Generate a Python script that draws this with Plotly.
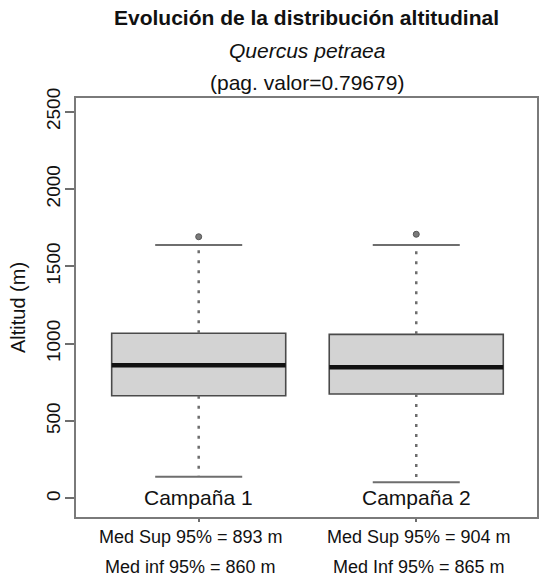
import plotly.graph_objects as go

# ---------------- data ----------------
categories = ["Campaña 1", "Campaña 2"]
positions = [1, 2]
q1 = [664, 675]
median = [861, 848]
q3 = [1068, 1061]
lower_whisker = [141, 105]
upper_whisker = [1638, 1638]
outliers = [[1692], [1708]]
med_sup = ["Med Sup 95% = 893 m", "Med Sup 95% = 904 m"]
med_inf = ["Med inf 95% = 860 m", "Med Inf 95% = 865 m"]
y_ticks = [0, 500, 1000, 1500, 2000, 2500]

title = "Evolución de la distribución altitudinal"
subtitle = "Quercus petraea"
pvalue = "(pag. valor=0.79679)"

# ---------------- style ----------------
FONT = "Liberation Sans, Arial, Helvetica, sans-serif"
BOXW = 0.8
CAPW = 0.4
GREY = "#6e6e6e"

fig = go.Figure()

# box bodies
for i, p in enumerate(positions):
    fig.add_trace(go.Box(
        x=[p], q1=[q1[i]], median=[median[i]], q3=[q3[i]],
        lowerfence=[q1[i]], upperfence=[q3[i]],
        width=BOXW, whiskerwidth=0, boxpoints=False,
        fillcolor="#d3d3d3", line=dict(color="#4a4a4a", width=1.6),
        showlegend=False, hoverinfo="skip",
    ))

# dotted whiskers
wx, wy = [], []
for i, p in enumerate(positions):
    wx += [p, p, None, p, p, None]
    wy += [q3[i], upper_whisker[i], None, q1[i], lower_whisker[i], None]
fig.add_trace(go.Scatter(x=wx, y=wy, mode="lines",
                         line=dict(color=GREY, width=2.5, dash="3px,7px"),
                         showlegend=False, hoverinfo="skip"))

# caps
cx, cy = [], []
for i, p in enumerate(positions):
    for v in (upper_whisker[i], lower_whisker[i]):
        cx += [p - CAPW / 2, p + CAPW / 2, None]
        cy += [v, v, None]
fig.add_trace(go.Scatter(x=cx, y=cy, mode="lines",
                         line=dict(color=GREY, width=2),
                         showlegend=False, hoverinfo="skip"))

# thick medians
mx, my = [], []
for i, p in enumerate(positions):
    mx += [p - BOXW / 2, p + BOXW / 2, None]
    my += [median[i], median[i], None]
fig.add_trace(go.Scatter(x=mx, y=my, mode="lines",
                         line=dict(color="#111111", width=4.5),
                         showlegend=False, hoverinfo="skip"))

# outliers
ox, oy = [], []
for i, p in enumerate(positions):
    for v in outliers[i]:
        ox.append(p)
        oy.append(v)
fig.add_trace(go.Scatter(x=ox, y=oy, mode="markers",
                         marker=dict(symbol="circle", size=6, color="#7a7a7a",
                                     line=dict(color="#555555", width=1)),
                         showlegend=False, hoverinfo="skip"))

annotations = []
# category labels inside the plot
for i, p in enumerate(positions):
    annotations.append(dict(x=p, y=0, xref="x", yref="y", text=categories[i],
                            showarrow=False, yanchor="middle", yshift=1,
                            font=dict(family=FONT, size=21, color="#111")))
# median CI texts below the plot
offsets = [-8, 3]
for i, p in enumerate(positions):
    annotations.append(dict(x=p, y=(517 - 537) / 419, xref="x", yref="paper",
                            text=med_sup[i], showarrow=False, xshift=offsets[i],
                            yanchor="middle",
                            font=dict(family=FONT, size=18, color="#111")))
    annotations.append(dict(x=p, y=(517 - 567) / 419, xref="x", yref="paper",
                            text=med_inf[i], showarrow=False, xshift=offsets[i],
                            yanchor="middle",
                            font=dict(family=FONT, size=18, color="#111")))
# titles
annotations.append(dict(x=0.5, y=(517 - 17) / 419, xref="paper", yref="paper",
                        text="<b>" + title + "</b>", showarrow=False, yanchor="middle",
                        font=dict(family=FONT, size=21, color="#111")))
annotations.append(dict(x=0.5, y=(517 - 50) / 419, xref="paper", yref="paper",
                        text="<i>" + subtitle + "</i>", showarrow=False, yanchor="middle",
                        font=dict(family=FONT, size=21, color="#111")))
annotations.append(dict(x=0.5, y=(517 - 82) / 419, xref="paper", yref="paper",
                        text=pvalue, showarrow=False, yanchor="middle",
                        font=dict(family=FONT, size=21, color="#111")))

fig.update_layout(
    width=542, height=580,
    margin=dict(l=76, r=3, t=98, b=63),
    paper_bgcolor="white", plot_bgcolor="white",
    font=dict(family=FONT, color="#111"),
    annotations=annotations,
    showlegend=False,
)
fig.update_xaxes(
    range=[0.436, 2.555], tickvals=positions, showticklabels=False,
    ticks="outside", ticklen=3, tickwidth=2, tickcolor=GREY,
    showline=True, mirror=True, linecolor="#7a7a7a", linewidth=2,
    showgrid=False, zeroline=False,
)
fig.update_yaxes(
    range=[-120, 2589], tickvals=y_ticks, tickangle=-90,
    tickfont=dict(family=FONT, size=19, color="#111"),
    ticks="outside", ticklen=9, tickwidth=2, tickcolor=GREY,
    ticklabelstandoff=-3,
    showline=True, mirror=True, linecolor="#7a7a7a", linewidth=2,
    showgrid=False, zeroline=False,
    title=dict(text="Altitud (m)", font=dict(family=FONT, size=20, color="#111"),
               standoff=12),
)

fig.write_html("out.html")
